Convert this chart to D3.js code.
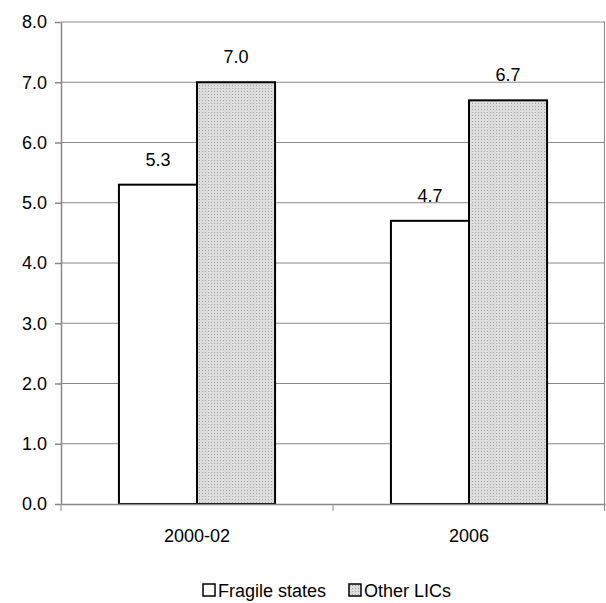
<!DOCTYPE html>
<html><head><meta charset="utf-8">
<script src="https://cdn.jsdelivr.net/npm/d3@7"></script>
<style>body{margin:0;background:#fff}svg{font-family:"Liberation Sans",Arial,sans-serif}</style>
</head><body><svg id="c" width="606" height="603"></svg>
<script>
const categories = ['2000-02', '2006']
const series = ['Fragile states', 'Other LICs']
const fragile = [5.3, 4.7]
const otherLics = [7.0, 6.7]
const yTicks = [0, 1, 2, 3, 4, 5, 6, 7, 8]

const svg = d3.select('#c')
const margin = {left: 61, right: 1, top: 22, bottom: 99}
const W = 606 - margin.left - margin.right
const H = 603 - margin.top - margin.bottom
const FS = 18

const defs = svg.append('defs')
const pat = defs.append('pattern').attr('id', 'dots').attr('patternUnits', 'userSpaceOnUse')
    .attr('width', 3).attr('height', 3)
pat.append('rect').attr('width', 3).attr('height', 3).attr('fill', '#dcdcdc')
pat.append('rect').attr('width', 1).attr('height', 1).attr('fill', '#a8a8a8')

const g = svg.append('g').attr('transform', `translate(${margin.left},${margin.top})`)
const x = d3.scaleBand().domain(categories).range([0, W])
const y = d3.scaleLinear().domain([0, 8]).range([H, 0])

// grid
g.selectAll('.grid').data(yTicks.slice(1)).join('line')
    .attr('x1', 0).attr('x2', W).attr('y1', d => y(d)).attr('y2', d => y(d))
    .attr('stroke', '#888').attr('stroke-width', 1)
g.append('line').attr('x1', W - 0.5).attr('x2', W - 0.5).attr('y1', 0).attr('y2', H).attr('stroke', '#888')

const bw = x.bandwidth() * 0.287
const data = categories.map((c, i) => [
    {c, v: fragile[i], k: 0}, {c, v: otherLics[i], k: 1}
]).flat()

g.selectAll('.bar').data(data).join('rect')
    .attr('x', d => x(d.c) + x.bandwidth() / 2 + (d.k - 1) * bw)
    .attr('y', d => y(d.v)).attr('width', bw).attr('height', d => H - y(d.v))
    .attr('fill', d => d.k ? 'url(#dots)' : '#fff')
    .attr('stroke', '#000').attr('stroke-width', 2)

g.selectAll('.lbl').data(data).join('text')
    .attr('x', d => x(d.c) + x.bandwidth() / 2 + (d.k - 0.5) * bw)
    .attr('y', d => y(d.v) - 19).attr('text-anchor', 'middle')
    .attr('font-size', FS).text(d => d.v.toFixed(1))

// axes
const ya = g.append('g').call(d3.axisLeft(y).tickValues(yTicks).tickFormat(d3.format('.1f')).tickSize(6).tickSizeOuter(0))
const xa = g.append('g').attr('transform', `translate(0,${H})`)
    .call(d3.axisBottom(x).tickSize(0).tickFormat(d => d))
xa.selectAll('.tick text').attr('dy', 0).attr('y', 38)
g.append('g').attr('transform', `translate(0,${H})`).selectAll('line')
    .data([0, W / 2, W - 0.5]).join('line').attr('x1', d => d).attr('x2', d => d).attr('y1', 0).attr('y2', 7).attr('stroke', '#888')
;[ya, xa].forEach(a => {
    a.selectAll('path,line').attr('stroke', '#888').attr('stroke-width', 1.5)
    a.selectAll('text').attr('font-size', FS).attr('fill', '#000').attr('font-family', '"Liberation Sans",Arial,sans-serif')
})
ya.selectAll('.tick text').attr('x', -14)

// legend
const lg = svg.append('g').attr('transform', 'translate(202,597)')
const items = [{name: series[0], fill: '#fff', x: 0}, {name: series[1], fill: 'url(#dots)', x: 146}]
items.forEach(it => {
    lg.append('rect').attr('x', it.x + 1).attr('y', -13).attr('width', 12).attr('height', 12)
        .attr('fill', it.fill).attr('stroke', '#000').attr('stroke-width', 1.5)
    lg.append('text').attr('x', it.x + 16).attr('y', 0).attr('font-size', FS).text(it.name)
})
</script></body></html>
